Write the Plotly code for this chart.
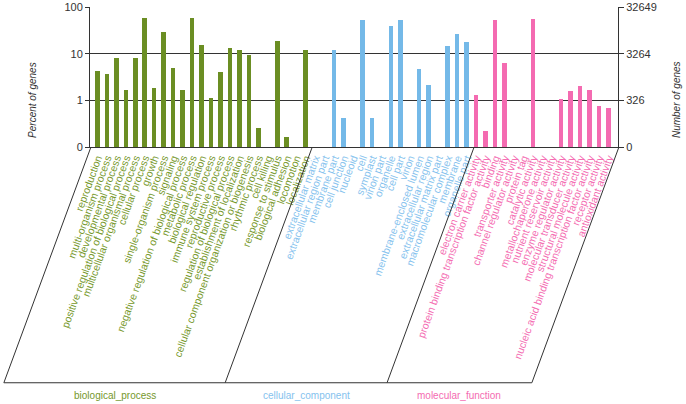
import plotly.graph_objects as go

# ---------------- data ----------------
bp_terms = ["reproduction", "multi-organism process", "developmental process",
            "positive regulation of biological process", "multicellular organismal process",
            "cellular process", "growth", "single-organism process", "signaling",
            "negative regulation of biological process", "metabolic process",
            "biological regulation", "immune system process", "reproductive process",
            "regulation of biological process", "establishment of localization",
            "cellular component organization or biogenesis", "rhythmic process",
            "cell killing", "response to stimulus", "biological adhesion",
            "locomotion", "localization"]
bp_values = [4.3, 3.6, 8.0, 1.7, 8.0, 57, 1.8, 28.5, 4.9, 1.65, 57, 15, 1.1, 4.1,
             13.5, 12, 9.2, 0.25, None, 18.5, 0.165, None, 12.1]

cc_terms = ["extracellular matrix", "extracellular region part", "membrane part",
            "cell junction", "nucleoid", "cell", "symplast", "virion part", "organelle",
            "cell part", "virion", "membrane-enclosed lumen", "extracellular region",
            "extracellular matrix part", "macromolecular complex", "membrane", "organelle part"]
cc_values = [None, None, 12.1, 0.41, None, 52, 0.41, None, 40, 52, None, 4.65, 2.1,
             None, 14.3, 26.4, 17.5]

mf_terms = ["electron carrier activity", "protein binding transcription factor activity",
            "binding", "transporter activity", "channel regulator activity", "protein tag",
            "catalytic activity", "metallochaperone activity", "nutrient reservoir activity",
            "enzyme regulator activity", "molecular transducer activity",
            "structural molecule activity", "nucleic acid binding transcription factor activity",
            "receptor activity", "antioxidant activity"]
mf_values = [1.28, 0.22, 52.7, 6.3, None, None, 55.6, None, None, 1.07, 1.6, 2.07, 1.67,
             0.75, 0.70]

group_names = ["biological_process", "cellular_component", "molecular_function"]
left_tick_vals = [0.1, 1, 10, 100]
left_tick_text = ["0", "1", "10", "100"]
right_tick_text = ["0", "326", "3264", "32649"]

# ---------------- styling ----------------
FONT = "Liberation Sans, Arial, sans-serif"
bar_colors = ["#6b8e23", "#74b9e8", "#f46bb1"]
text_colors = ["#76982b", "#85c2ee", "#f46bb1"]
AX = "#333333"

groups = [(bp_terms, bp_values), (cc_terms, cc_values), (mf_terms, mf_values)]

fig = go.Figure()
tickvals, ticktext = [], []
start = 0
bounds = []
for gi, (terms, vals) in enumerate(groups):
    xs = list(range(start, start + len(terms)))
    fig.add_trace(go.Bar(x=xs, y=vals, marker=dict(color=bar_colors[gi], line=dict(width=0)),
                         width=0.48, showlegend=False, name=group_names[gi]))
    tickvals += xs
    ticktext += [f'<span style="color:{text_colors[gi]}">{t}</span>' for t in terms]
    bounds.append((start - 0.5, start + len(terms) - 0.5))
    start += len(terms)

# invisible trace for right axis
fig.add_trace(go.Scatter(x=[0], y=[1], yaxis="y2", mode="markers",
                         marker=dict(opacity=0), showlegend=False, hoverinfo="skip"))

xmin, xmax = -0.78, 55.0

def px(d):
    return (d - xmin) / (xmax - xmin)

slope = 9.2          # horizontal shift (data units) of the slanted separators
ybot = -1.684
tops = [xmin + 0.1, bounds[0][1] + 0.2, bounds[1][1] + 0.3, xmax + 0.1]
shapes = []
for t in tops:
    shapes.append(dict(type="line", xref="paper", yref="paper",
                       x0=px(t), y0=0, x1=px(t - slope), y1=ybot,
                       line=dict(color=AX, width=1)))
shapes.append(dict(type="line", xref="paper", yref="paper",
                   x0=px(tops[0] - slope), y0=ybot, x1=px(tops[-1] - slope), y1=ybot,
                   line=dict(color=AX, width=1)))

annotations = []
for gi in range(3):
    c = ((tops[gi] - slope) + (tops[gi + 1] - slope)) / 2
    annotations.append(dict(x=px(c), y=-1.776, xref="paper", yref="paper",
                            text=group_names[gi], showarrow=False,
                            font=dict(family=FONT, size=10, color=text_colors[gi]),
                            xanchor="center", yanchor="middle"))
annotations.append(dict(x=-0.108, y=0.336, xref="paper", yref="paper",
                        text="<i>Percent of genes</i>", showarrow=False, textangle=-90,
                        font=dict(family=FONT, size=10, color=AX),
                        xanchor="center", yanchor="middle"))
annotations.append(dict(x=1.112, y=0.336, xref="paper", yref="paper",
                        text="<i>Number of genes</i>", showarrow=False, textangle=-90,
                        font=dict(family=FONT, size=10, color=AX),
                        xanchor="center", yanchor="middle"))

fig.update_layout(
    width=686, height=404, autosize=False,
    margin=dict(l=90, r=68, t=7, b=257, pad=0),
    paper_bgcolor="white", plot_bgcolor="white",
    font=dict(family=FONT, size=11, color=AX),
    bargap=0,
    xaxis=dict(range=[xmin, xmax], tickmode="array", tickvals=tickvals, ticktext=ticktext,
               tickangle=-70, tickfont=dict(size=10.5, family=FONT), ticks="",
               showgrid=False, showline=True, linecolor=AX, linewidth=1,
               zeroline=False, automargin=False, fixedrange=True),
    yaxis=dict(type="log", range=[-1, 2], tickmode="array", tickvals=left_tick_vals,
               ticktext=left_tick_text, ticks="outside", ticklen=4, tickcolor=AX,
               showgrid=True, gridcolor=AX, gridwidth=1, showline=True, linecolor=AX,
               linewidth=1, tickfont=dict(size=11, family=FONT, color=AX),
               automargin=False, zeroline=False),
    yaxis2=dict(type="log", range=[-1, 2], overlaying="y", side="right", tickmode="array",
                tickvals=left_tick_vals, ticktext=right_tick_text, ticks="outside",
                ticklen=5, tickcolor=AX, showgrid=False, showline=True, linecolor=AX,
                linewidth=1, tickfont=dict(size=11, family=FONT, color=AX),
                automargin=False, zeroline=False),
    shapes=shapes, annotations=annotations,
)

fig.write_html("out.html", config={"displayModeBar": False},
               post_script="document.body.style.margin='0';document.body.style.padding='0';document.body.style.overflow='hidden';")
